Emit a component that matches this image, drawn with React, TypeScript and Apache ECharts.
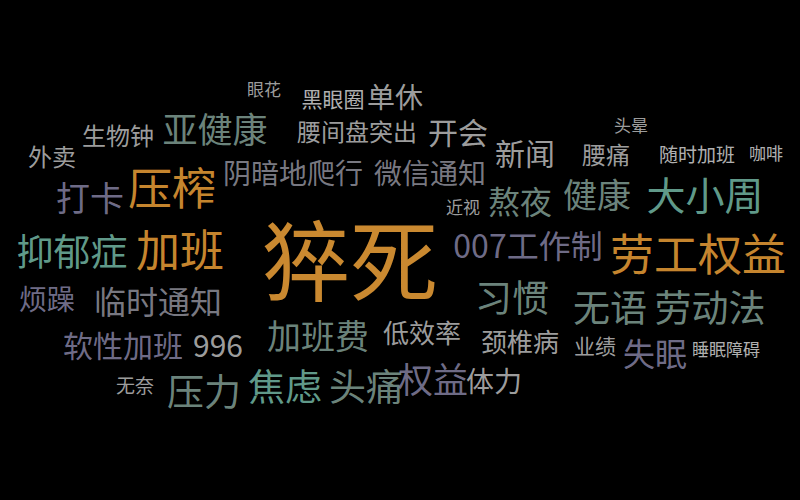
import React, { useRef, useEffect } from 'react';
import * as echarts from 'echarts';

const words = ['猝死', '劳工权益', '加班', '压榨', '抑郁症', '007工作制', '大小周', '健康', '熬夜', '习惯', '无语', '劳动法', '临时通知', '烦躁', '打卡', '亚健康', '阴暗地爬行', '微信通知', '新闻', '腰痛', '随时加班', '咖啡', '头晕', '近视', '腰间盘突出', '开会', '单休', '黑眼圈', '眼花', '生物钟', '外卖', '软性加班', '996', '加班费', '低效率', '颈椎病', '业绩', '失眠', '睡眠障碍', '无奈', '压力', '焦虑', '头痛', '权益', '体力'];
const sizes = [88, 44, 44, 44, 37, 32, 39, 34, 32, 37, 37, 37, 32, 28, 34, 35, 28, 28, 30, 24, 19, 17, 17, 17, 24, 30, 28, 21, 17, 24, 24, 30, 30, 34, 26, 26, 21, 32, 17, 19, 37, 37, 37, 35, 28];
const xs = [350, 698, 180, 172, 72, 528, 705, 597, 520, 512, 610, 710, 158, 47, 90, 215, 293, 430, 525, 606, 697, 766, 631, 463, 357, 458, 395, 333, 264, 118, 52, 123, 218, 318, 422, 520, 595, 655, 726, 135, 204, 285, 366, 433, 494];
const ys = [255, 252, 248, 186, 250, 244, 193, 193, 200, 296, 306, 306, 300, 298, 196, 127, 172, 172, 152, 153, 153, 152, 124, 206, 130, 131, 96, 98, 88, 134, 155, 344, 344, 334, 331, 340, 345, 352, 348, 384, 390, 385, 385, 377, 380];
const colorIdx = [0, 0, 0, 0, 1, 2, 1, 3, 3, 3, 3, 3, 4, 2, 2, 3, 4, 4, 5, 5, 6, 6, 5, 5, 5, 5, 5, 6, 5, 5, 5, 2, 5, 3, 5, 5, 5, 2, 6, 5, 3, 1, 3, 2, 5];
const palette = ['#fdab3c', '#7cc4b0', '#8e8aac', '#8aa89e', '#9a9aa6', '#c8c8c8', '#e0e0e0'];

const App: React.FC = () => {
  const chartRef = useRef<HTMLDivElement>(null);

  useEffect(() => {
    document.body.style.margin = '0';
    if (!chartRef.current) return;
    const chart = echarts.init(chartRef.current, null, { renderer: 'svg' });
    chart.setOption({
      animation: false,
      backgroundColor: '#000',
      grid: { left: 0, right: 0, top: 0, bottom: 0 },
      xAxis: { type: 'value', min: 0, max: 800, show: false },
      yAxis: { type: 'value', min: 0, max: 500, inverse: true, show: false },
      series: [{
        type: 'scatter',
        symbolSize: 0,
        data: words.map((w, i) => ({
          name: w,
          value: [xs[i], ys[i]],
          label: { fontSize: sizes[i], color: palette[colorIdx[i]] }
        })),
        label: {
          show: true,
          position: 'inside',
          formatter: '{b}',
          fontFamily: 'Noto Sans CJK SC'
        }
      }]
    });
    return () => chart.dispose();
  }, []);

  return <div ref={chartRef} style={{ width: 800, height: 500 }} />;
};

export default App;
